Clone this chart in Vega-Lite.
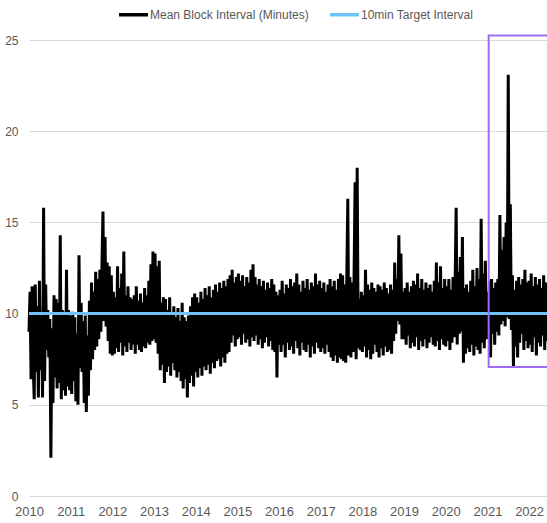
{
"$schema":"https://vega.github.io/schema/vega-lite/v6.json",
"width":518,"height":456,
"autosize":"none",
"padding":{"left":29,"top":40,"right":0,"bottom":27},
"config":{"view":{"stroke":null},"font":"Liberation Sans"},
"datasets":{"main":[
{"x":2010,"v":9.0},{"x":2010.025,"v":11.2},{"x":2010.05,"v":6.4},{"x":2010.075,"v":11.5},{"x":2010.1,"v":7.2},{"x":2010.125,"v":5.3},{"x":2010.15,"v":11.6},{"x":2010.175,"v":6.8},{"x":2010.2,"v":10.4},{"x":2010.225,"v":5.4},
{"x":2010.25,"v":11.8},{"x":2010.275,"v":6.9},{"x":2010.3,"v":9.8},{"x":2010.325,"v":5.4},{"x":2010.35,"v":15.8},{"x":2010.375,"v":6.3},{"x":2010.4,"v":11.6},{"x":2010.425,"v":8.0},{"x":2010.45,"v":10.2},{"x":2010.475,"v":7.6},
{"x":2010.5,"v":9.7},{"x":2010.525,"v":2.1},{"x":2010.55,"v":9.2},{"x":2010.575,"v":5.1},{"x":2010.6,"v":11.0},{"x":2010.625,"v":6.5},{"x":2010.65,"v":10.8},{"x":2010.675,"v":5.9},{"x":2010.7,"v":10.6},{"x":2010.725,"v":6.2},
{"x":2010.75,"v":14.3},{"x":2010.775,"v":5.3},{"x":2010.8,"v":10.2},{"x":2010.825,"v":5.8},{"x":2010.85,"v":10.1},{"x":2010.875,"v":5.5},{"x":2010.9,"v":12.4},{"x":2010.925,"v":6.0},{"x":2010.95,"v":10.2},{"x":2010.975,"v":5.8},
{"x":2011,"v":9.9},{"x":2011.025,"v":5.6},{"x":2011.05,"v":10.1},{"x":2011.075,"v":6.3},{"x":2011.1,"v":9.8},{"x":2011.125,"v":5.2},{"x":2011.15,"v":8.9},{"x":2011.175,"v":5.0},{"x":2011.2,"v":13.2},{"x":2011.225,"v":7.0},
{"x":2011.25,"v":10.6},{"x":2011.275,"v":6.8},{"x":2011.3,"v":9.6},{"x":2011.325,"v":5.1},{"x":2011.35,"v":9.9},{"x":2011.375,"v":4.6},{"x":2011.4,"v":8.8},{"x":2011.425,"v":5.5},{"x":2011.45,"v":10.7},{"x":2011.475,"v":6.9},
{"x":2011.5,"v":11.7},{"x":2011.525,"v":7.5},{"x":2011.55,"v":11.2},{"x":2011.575,"v":8.0},{"x":2011.6,"v":12.3},{"x":2011.625,"v":8.2},{"x":2011.65,"v":11.9},{"x":2011.675,"v":8.6},{"x":2011.7,"v":12.4},{"x":2011.725,"v":9.0},
{"x":2011.75,"v":12.6},{"x":2011.775,"v":15.6},{"x":2011.8,"v":9.6},{"x":2011.825,"v":14.2},{"x":2011.85,"v":9.3},{"x":2011.875,"v":12.8},{"x":2011.9,"v":8.5},{"x":2011.925,"v":12.6},{"x":2011.95,"v":7.8},{"x":2011.975,"v":12.1},
{"x":2012,"v":7.7},{"x":2012.025,"v":11.2},{"x":2012.05,"v":7.8},{"x":2012.075,"v":10.9},{"x":2012.1,"v":8.1},{"x":2012.125,"v":12.6},{"x":2012.15,"v":7.9},{"x":2012.175,"v":11.4},{"x":2012.2,"v":8.4},{"x":2012.225,"v":12.2},
{"x":2012.25,"v":7.7},{"x":2012.275,"v":13.4},{"x":2012.3,"v":8.2},{"x":2012.325,"v":11.0},{"x":2012.35,"v":7.9},{"x":2012.375,"v":11.5},{"x":2012.4,"v":8.4},{"x":2012.425,"v":10.9},{"x":2012.45,"v":8.0},{"x":2012.475,"v":10.8},
{"x":2012.5,"v":8.3},{"x":2012.525,"v":11.0},{"x":2012.55,"v":7.8},{"x":2012.575,"v":11.5},{"x":2012.6,"v":8.3},{"x":2012.625,"v":10.7},{"x":2012.65,"v":8.0},{"x":2012.675,"v":11.1},{"x":2012.7,"v":7.9},{"x":2012.725,"v":10.6},
{"x":2012.75,"v":8.2},{"x":2012.775,"v":11.4},{"x":2012.8,"v":8.1},{"x":2012.825,"v":11.0},{"x":2012.85,"v":8.4},{"x":2012.875,"v":11.8},{"x":2012.9,"v":8.3},{"x":2012.925,"v":12.7},{"x":2012.95,"v":8.5},{"x":2012.975,"v":13.4},
{"x":2013,"v":8.6},{"x":2013.025,"v":13.3},{"x":2013.05,"v":8.4},{"x":2013.075,"v":12.6},{"x":2013.1,"v":7.8},{"x":2013.125,"v":12.9},{"x":2013.15,"v":6.9},{"x":2013.175,"v":10.6},{"x":2013.2,"v":7.2},{"x":2013.225,"v":10.9},
{"x":2013.25,"v":6.2},{"x":2013.275,"v":10.8},{"x":2013.3,"v":6.8},{"x":2013.325,"v":10.2},{"x":2013.35,"v":7.1},{"x":2013.375,"v":10.9},{"x":2013.4,"v":6.6},{"x":2013.425,"v":10.0},{"x":2013.45,"v":7.3},{"x":2013.475,"v":10.4},
{"x":2013.5,"v":6.9},{"x":2013.525,"v":9.8},{"x":2013.55,"v":6.5},{"x":2013.575,"v":10.3},{"x":2013.6,"v":6.8},{"x":2013.625,"v":9.6},{"x":2013.65,"v":6.3},{"x":2013.675,"v":10.6},{"x":2013.7,"v":5.9},{"x":2013.725,"v":9.8},
{"x":2013.75,"v":6.4},{"x":2013.775,"v":9.6},{"x":2013.8,"v":5.4},{"x":2013.825,"v":9.9},{"x":2013.85,"v":6.2},{"x":2013.875,"v":10.4},{"x":2013.9,"v":6.6},{"x":2013.925,"v":10.9},{"x":2013.95,"v":6.0},{"x":2013.975,"v":11.1},
{"x":2014,"v":6.8},{"x":2014.025,"v":10.9},{"x":2014.05,"v":6.5},{"x":2014.075,"v":10.6},{"x":2014.1,"v":7.0},{"x":2014.125,"v":11.2},{"x":2014.15,"v":6.6},{"x":2014.175,"v":10.8},{"x":2014.2,"v":7.1},{"x":2014.225,"v":11.4},
{"x":2014.25,"v":6.9},{"x":2014.275,"v":11.0},{"x":2014.3,"v":7.2},{"x":2014.325,"v":11.5},{"x":2014.35,"v":6.7},{"x":2014.375,"v":10.9},{"x":2014.4,"v":7.3},{"x":2014.425,"v":11.3},{"x":2014.45,"v":7.0},{"x":2014.475,"v":11.6},
{"x":2014.5,"v":7.4},{"x":2014.525,"v":11.2},{"x":2014.55,"v":7.5},{"x":2014.575,"v":11.7},{"x":2014.6,"v":7.1},{"x":2014.625,"v":11.4},{"x":2014.65,"v":7.6},{"x":2014.675,"v":11.8},{"x":2014.7,"v":7.3},{"x":2014.725,"v":11.5},
{"x":2014.75,"v":7.8},{"x":2014.775,"v":11.9},{"x":2014.8,"v":7.9},{"x":2014.825,"v":12.1},{"x":2014.85,"v":8.4},{"x":2014.875,"v":12.4},{"x":2014.9,"v":8.8},{"x":2014.925,"v":11.7},{"x":2014.95,"v":8.2},{"x":2014.975,"v":12.0},
{"x":2015,"v":8.6},{"x":2015.025,"v":12.2},{"x":2015.05,"v":8.7},{"x":2015.075,"v":11.8},{"x":2015.1,"v":8.3},{"x":2015.125,"v":12.1},{"x":2015.15,"v":8.9},{"x":2015.175,"v":11.5},{"x":2015.2,"v":8.4},{"x":2015.225,"v":12.0},
{"x":2015.25,"v":8.6},{"x":2015.275,"v":11.7},{"x":2015.3,"v":8.2},{"x":2015.325,"v":12.4},{"x":2015.35,"v":8.7},{"x":2015.375,"v":12.7},{"x":2015.4,"v":8.5},{"x":2015.425,"v":12.0},{"x":2015.45,"v":8.8},{"x":2015.475,"v":11.6},
{"x":2015.5,"v":8.3},{"x":2015.525,"v":11.9},{"x":2015.55,"v":8.6},{"x":2015.575,"v":11.5},{"x":2015.6,"v":8.1},{"x":2015.625,"v":11.8},{"x":2015.65,"v":8.4},{"x":2015.675,"v":11.3},{"x":2015.7,"v":8.7},{"x":2015.725,"v":11.7},
{"x":2015.75,"v":8.2},{"x":2015.775,"v":11.4},{"x":2015.8,"v":8.5},{"x":2015.825,"v":11.9},{"x":2015.85,"v":8.0},{"x":2015.875,"v":11.6},{"x":2015.9,"v":7.9},{"x":2015.925,"v":11.2},{"x":2015.95,"v":6.5},{"x":2015.975,"v":11.0},
{"x":2016,"v":8.3},{"x":2016.025,"v":11.3},{"x":2016.05,"v":7.9},{"x":2016.075,"v":11.8},{"x":2016.1,"v":8.3},{"x":2016.125,"v":11.1},{"x":2016.15,"v":7.6},{"x":2016.175,"v":11.6},{"x":2016.2,"v":8.4},{"x":2016.225,"v":11.4},
{"x":2016.25,"v":8.0},{"x":2016.275,"v":11.9},{"x":2016.3,"v":8.2},{"x":2016.325,"v":11.5},{"x":2016.35,"v":7.8},{"x":2016.375,"v":11.7},{"x":2016.4,"v":8.5},{"x":2016.425,"v":12.2},{"x":2016.45,"v":8.1},{"x":2016.475,"v":11.6},
{"x":2016.5,"v":7.7},{"x":2016.525,"v":11.2},{"x":2016.55,"v":8.4},{"x":2016.575,"v":11.8},{"x":2016.6,"v":8.0},{"x":2016.625,"v":11.4},{"x":2016.65,"v":7.9},{"x":2016.675,"v":11.9},{"x":2016.7,"v":8.3},{"x":2016.725,"v":11.3},
{"x":2016.75,"v":7.6},{"x":2016.775,"v":11.7},{"x":2016.8,"v":8.2},{"x":2016.825,"v":11.5},{"x":2016.85,"v":7.8},{"x":2016.875,"v":12.2},{"x":2016.9,"v":8.4},{"x":2016.925,"v":11.6},{"x":2016.95,"v":8.1},{"x":2016.975,"v":11.8},
{"x":2017,"v":7.9},{"x":2017.025,"v":11.4},{"x":2017.05,"v":8.1},{"x":2017.075,"v":11.7},{"x":2017.1,"v":7.8},{"x":2017.125,"v":11.2},{"x":2017.15,"v":8.3},{"x":2017.175,"v":11.6},{"x":2017.2,"v":7.9},{"x":2017.225,"v":11.9},
{"x":2017.25,"v":7.6},{"x":2017.275,"v":11.5},{"x":2017.3,"v":7.4},{"x":2017.325,"v":11.8},{"x":2017.35,"v":7.7},{"x":2017.375,"v":11.3},{"x":2017.4,"v":7.3},{"x":2017.425,"v":11.9},{"x":2017.45,"v":7.6},{"x":2017.475,"v":12.2},
{"x":2017.5,"v":7.5},{"x":2017.525,"v":12.1},{"x":2017.55,"v":7.4},{"x":2017.575,"v":11.6},{"x":2017.6,"v":7.3},{"x":2017.625,"v":11.8},{"x":2017.65,"v":16.3},{"x":2017.675,"v":7.7},{"x":2017.7,"v":12.0},{"x":2017.725,"v":7.6},
{"x":2017.75,"v":11.7},{"x":2017.775,"v":7.9},{"x":2017.8,"v":12.0},{"x":2017.825,"v":17.2},{"x":2017.85,"v":7.5},{"x":2017.875,"v":18.0},{"x":2017.9,"v":8.1},{"x":2017.925,"v":10.8},{"x":2017.95,"v":8.0},{"x":2017.975,"v":11.2},
{"x":2018,"v":7.9},{"x":2018.025,"v":11.0},{"x":2018.05,"v":8.2},{"x":2018.075,"v":12.4},{"x":2018.1,"v":7.6},{"x":2018.125,"v":11.6},{"x":2018.15,"v":8.0},{"x":2018.175,"v":11.3},{"x":2018.2,"v":7.5},{"x":2018.225,"v":11.7},
{"x":2018.25,"v":7.8},{"x":2018.275,"v":11.4},{"x":2018.3,"v":8.3},{"x":2018.325,"v":11.2},{"x":2018.35,"v":7.9},{"x":2018.375,"v":11.6},{"x":2018.4,"v":7.6},{"x":2018.425,"v":11.5},{"x":2018.45,"v":8.1},{"x":2018.475,"v":11.3},
{"x":2018.5,"v":7.7},{"x":2018.525,"v":11.7},{"x":2018.55,"v":8.2},{"x":2018.575,"v":11.4},{"x":2018.6,"v":7.9},{"x":2018.625,"v":11.1},{"x":2018.65,"v":8.0},{"x":2018.675,"v":11.6},{"x":2018.7,"v":7.8},{"x":2018.725,"v":11.3},
{"x":2018.75,"v":8.5},{"x":2018.775,"v":12.8},{"x":2018.8,"v":8.9},{"x":2018.825,"v":11.9},{"x":2018.85,"v":9.6},{"x":2018.875,"v":14.3},{"x":2018.9,"v":9.4},{"x":2018.925,"v":13.3},{"x":2018.95,"v":8.6},{"x":2018.975,"v":11.2},
{"x":2019,"v":8.6},{"x":2019.025,"v":11.4},{"x":2019.05,"v":8.3},{"x":2019.075,"v":11.7},{"x":2019.1,"v":8.8},{"x":2019.125,"v":11.2},{"x":2019.15,"v":8.1},{"x":2019.175,"v":11.5},{"x":2019.2,"v":8.4},{"x":2019.225,"v":11.8},
{"x":2019.25,"v":8.2},{"x":2019.275,"v":11.6},{"x":2019.3,"v":8.7},{"x":2019.325,"v":12.2},{"x":2019.35,"v":8.0},{"x":2019.375,"v":11.4},{"x":2019.4,"v":8.5},{"x":2019.425,"v":11.9},{"x":2019.45,"v":8.2},{"x":2019.475,"v":11.3},
{"x":2019.5,"v":8.6},{"x":2019.525,"v":11.7},{"x":2019.55,"v":8.1},{"x":2019.575,"v":11.4},{"x":2019.6,"v":8.4},{"x":2019.625,"v":11.6},{"x":2019.65,"v":8.7},{"x":2019.675,"v":11.2},{"x":2019.7,"v":8.3},{"x":2019.725,"v":11.8},
{"x":2019.75,"v":8.2},{"x":2019.775,"v":12.8},{"x":2019.8,"v":8.5},{"x":2019.825,"v":11.7},{"x":2019.85,"v":8.0},{"x":2019.875,"v":12.6},{"x":2019.9,"v":8.6},{"x":2019.925,"v":11.4},{"x":2019.95,"v":8.3},{"x":2019.975,"v":11.9},
{"x":2020,"v":8.2},{"x":2020.025,"v":11.5},{"x":2020.05,"v":8.5},{"x":2020.075,"v":11.9},{"x":2020.1,"v":8.0},{"x":2020.125,"v":11.3},{"x":2020.15,"v":8.4},{"x":2020.175,"v":12.0},{"x":2020.2,"v":8.7},{"x":2020.225,"v":11.6},
{"x":2020.25,"v":15.8},{"x":2020.275,"v":8.3},{"x":2020.3,"v":12.3},{"x":2020.325,"v":8.9},{"x":2020.35,"v":13.1},{"x":2020.375,"v":9.0},{"x":2020.4,"v":14.2},{"x":2020.425,"v":7.3},{"x":2020.45,"v":11.4},{"x":2020.475,"v":7.8},
{"x":2020.5,"v":11.6},{"x":2020.525,"v":8.1},{"x":2020.55,"v":11.2},{"x":2020.575,"v":7.9},{"x":2020.6,"v":11.8},{"x":2020.625,"v":8.3},{"x":2020.65,"v":12.4},{"x":2020.675,"v":7.7},{"x":2020.7,"v":11.5},{"x":2020.725,"v":8.2},
{"x":2020.75,"v":12.5},{"x":2020.775,"v":8.0},{"x":2020.8,"v":11.9},{"x":2020.825,"v":7.8},{"x":2020.85,"v":15.2},{"x":2020.875,"v":8.4},{"x":2020.9,"v":12.2},{"x":2020.925,"v":8.1},{"x":2020.95,"v":12.9},{"x":2020.975,"v":8.6},
{"x":2021,"v":11.2},{"x":2021.025,"v":8.6},{"x":2021.05,"v":11.8},{"x":2021.075,"v":7.6},{"x":2021.1,"v":11.9},{"x":2021.125,"v":8.9},{"x":2021.15,"v":11.4},{"x":2021.175,"v":8.3},{"x":2021.2,"v":11.7},{"x":2021.225,"v":9.0},
{"x":2021.25,"v":11.9},{"x":2021.275,"v":8.8},{"x":2021.3,"v":15.4},{"x":2021.325,"v":9.4},{"x":2021.35,"v":13.5},{"x":2021.375,"v":9.6},{"x":2021.4,"v":14.2},{"x":2021.425,"v":9.3},{"x":2021.45,"v":15.0},{"x":2021.475,"v":9.8},
{"x":2021.5,"v":23.1},{"x":2021.525,"v":9.7},{"x":2021.55,"v":16.0},{"x":2021.575,"v":9.1},{"x":2021.6,"v":12.1},{"x":2021.625,"v":7.1},{"x":2021.65,"v":11.3},{"x":2021.675,"v":8.2},{"x":2021.7,"v":11.8},{"x":2021.725,"v":7.6},
{"x":2021.75,"v":12.0},{"x":2021.775,"v":8.4},{"x":2021.8,"v":11.6},{"x":2021.825,"v":8.9},{"x":2021.85,"v":11.9},{"x":2021.875,"v":8.0},{"x":2021.9,"v":12.4},{"x":2021.925,"v":8.5},{"x":2021.95,"v":11.7},{"x":2021.975,"v":8.1},
{"x":2022,"v":11.8},{"x":2022.025,"v":8.3},{"x":2022.05,"v":12.2},{"x":2022.075,"v":7.9},{"x":2022.1,"v":11.5},{"x":2022.125,"v":8.7},{"x":2022.15,"v":12.0},{"x":2022.175,"v":7.7},{"x":2022.2,"v":11.6},{"x":2022.225,"v":8.4},
{"x":2022.25,"v":11.9},{"x":2022.275,"v":8.2},{"x":2022.3,"v":11.4},{"x":2022.325,"v":8.8},{"x":2022.35,"v":12.1},{"x":2022.375,"v":8.0},{"x":2022.4,"v":11.7},{"x":2022.425,"v":8.5}
],
"box":[{"x1":2021.03,"x2":2022.55,"y1":7.07,"y2":25.24}]},
"layer":[
{"data":{"name":"main"},
 "mark":{"type":"line","strokeWidth":3,"strokeJoin":"miter","strokeMiterLimit":2},
 "encoding":{
  "x":{"field":"x","type":"quantitative","scale":{"domain":[2010,2022.43],"nice":false,"zero":false},
       "axis":{"title":null,"values":[2010,2011,2012,2013,2014,2015,2016,2017,2018,2019,2020,2021,2022],"format":"d","grid":false,"domain":false,"ticks":false,"tickSize":0,"labelPadding":9,"labelFontSize":13,"labelColor":"#595959","labelFont":"Liberation Sans","labelFlush":false,"labelOverlap":false}},
  "y":{"field":"v","type":"quantitative","scale":{"domain":[0,25],"nice":false},
       "axis":{"title":null,"values":[0,5,10,15,20,25],"grid":true,"gridColor":"#D9D9D9","gridWidth":1,"domain":false,"ticks":false,"tickSize":0,"labelPadding":11,"labelFontSize":12,"labelColor":"#595959","labelFont":"Liberation Sans"}},
  "color":{"datum":"Mean Block Interval (Minutes)","type":"nominal",
    "scale":{"domain":["Mean Block Interval (Minutes)","10min Target Interval"],"range":["#000000","#6EC4FA"]},
    "legend":{"title":null,"orient":"none","legendX":88,"legendY":-42,"direction":"horizontal","symbolType":"stroke","symbolSize":841,"symbolStrokeWidth":3.5,"labelOffset":0,"columnPadding":14,"labelFontSize":12,"labelColor":"#595959","labelFont":"Liberation Sans","padding":0}}
 }},
{"data":{"name":"main"},
 "mark":{"type":"rule","strokeWidth":3},
 "encoding":{"y":{"datum":10},"color":{"datum":"10min Target Interval","type":"nominal"}}},
{"data":{"name":"box"},
 "mark":{"type":"rect","fill":null,"fillOpacity":0,"stroke":"#9C6CF5","strokeWidth":2},
 "encoding":{"x":{"field":"x1","type":"quantitative"},"x2":{"field":"x2"},"y":{"field":"y1","type":"quantitative"},"y2":{"field":"y2"}}}
]
}
